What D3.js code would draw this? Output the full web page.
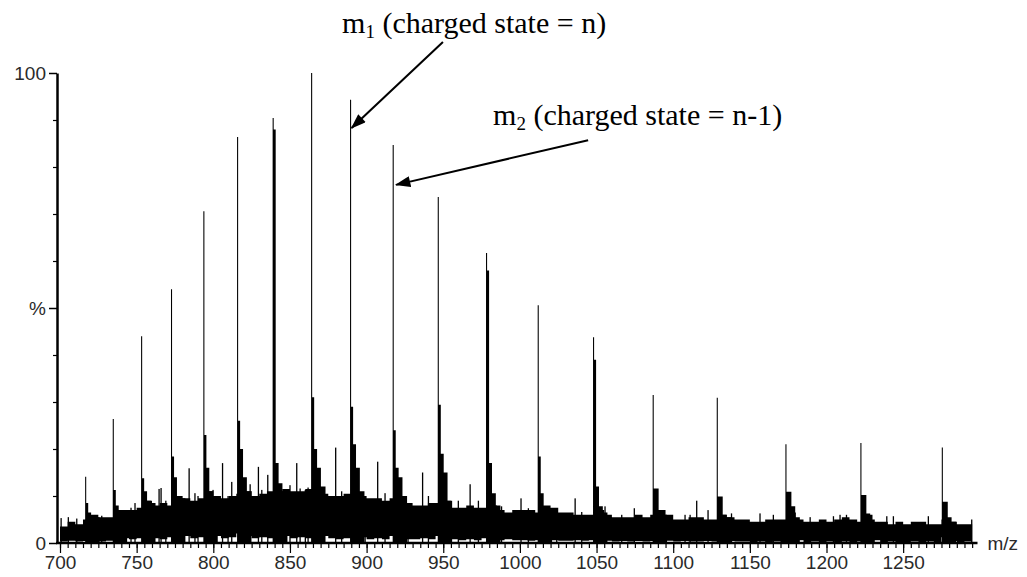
<!DOCTYPE html>
<html lang="en">
<head>
<meta charset="UTF-8">
<title>Spectrum</title>
<script src="https://cdn.jsdelivr.net/npm/d3@7/dist/d3.min.js"></script>
<style>
    body { margin: 0; background: #fff; }
    .axis text { font-family: "Liberation Sans", Arial, sans-serif; font-size: 19px; fill: #2a2a2a; }
    .axis path, .axis line { stroke: #000; }
</style>
</head>
<body>
<div id="chart"></div>
<script>
// noise band, read every 5 m/z from 700 to 1295 (% intensity)
var noiseMz = d3.range(700, 1300, 5);
var noiseTop = [
    3.5, 4.5, 4, 5, 6, 5.5, 5.5, 6, 7, 7,
    7.5, 9, 8, 8.5, 8, 10, 9.5, 9, 9.5, 11,
    10, 9.5, 10, 10.5, 11, 10, 10.5, 11, 11, 11.5,
    11, 11, 11.5, 12, 10.5, 10, 10, 10.5, 11, 10,
    9.5, 9.5, 9, 9.5, 10, 8.5, 8, 8, 8.5, 8.5,
    9, 7.5, 7.5, 8, 7.5, 7.5, 8, 7, 6.5, 7,
    7, 7, 6.5, 8, 7.5, 6.5, 6.5, 6, 6, 6,
    7, 6, 5.5, 5.5, 5.5, 6, 5.5, 6, 7, 6,
    5, 5, 5.5, 5.5, 5, 5, 6, 5.5, 5, 5,
    4.5, 4.5, 5, 5, 5, 6.5, 5, 4.5, 4.5, 5,
    4.5, 5, 5.5, 5, 4.5, 6, 4.5, 4.5, 4, 4.5,
    4, 4.5, 4.5, 4, 4, 5, 4.5, 4, 4, 4
];
var noiseBottom = [
    0.3, 0.5, 0.3, 0.4, 0.5, 0.3, 0.5, 1.2, 1, 0.8,
    1, 1.5, 1, 0.8, 1.2, 2, 1.5, 1, 1.2, 2,
    1.5, 1, 1.2, 2, 1.5, 1, 1.2, 1, 2, 1.5,
    1, 1.2, 1, 2, 1.5, 1, 0.8, 1, 2, 1.2,
    0.8, 1, 0.8, 1.5, 1.2, 0.8, 0.8, 1, 0.8, 1.5,
    1, 0.8, 0.6, 0.8, 0.6, 1, 0.6, 0.6, 0.8, 0.6,
    0.6, 0.5, 0.6, 1, 0.6, 0.5, 0.5, 0.6, 0.5, 0.6,
    1, 0.5, 0.3, 0.4, 0.3, 0.4, 0.3, 0.4, 1, 0.5,
    0.3, 0.4, 0.3, 0.3, 0.4, 0.3, 0.8, 0.4, 0.3, 0.3,
    0.2, 0.3, 0.2, 0.3, 0.2, 1.2, 0.6, 0.2, 0.3, 0.2,
    0.3, 0.2, 0.3, 0.2, 0.3, 1.2, 0.6, 0.2, 0.3, 0.2,
    0.2, 0.3, 0.2, 0.3, 0.2, 1.2, 0.4, 0.2, 0.3, 0.2
];

// charge-state peaks
var peakMz     = [716.8, 734.8, 753.3, 772.8, 793.9, 815.9, 839.1, 864.2, 889.6, 917.4, 946.8, 978.3, 1012.0, 1048.1, 1087.0, 1128.8, 1173.6, 1222.5, 1275.6];
var peakTop    = [14.1, 26.4, 44, 54, 70.6, 86.4, 90.4, 100, 94.3, 84.7, 73.6, 61.7, 50.6, 43.8, 31.5, 30.9, 21, 21.3, 20.3];
var peakSecond = [8.5, 11.3, 13.8, 18.4, 23, 26, 88, 31, 29, 24, 29.4, 58, 18.4, 39, 11.6, 9.9, 10.9, 10.2, 8.8];
var tail1      = [6.5, 8, 11, 14, 16, 20, 17, 20, 21, 16, 19, 17, 10.6, 12, 11.6, 9.9, 10.9, 10.2, 8.8];
var tail2      = [5.5, 7, 9, 10, 11, 14, 12.7, 16, 16, 14, 15, 10.6, 7.8, 7.8, 7, 6, 7.8, 6.3, 5.5];
var tail3      = [5.5, 7, 8.5, 9.5, 10, 11, 11, 12, 11, 10, 9, 8, 7, 6.5, 6, 5.5, 5.5, 5, 4.5];

// isolated spikes standing out of the noise
var spikeMz = [
    700.7, 705.4, 710.9, 727.2, 746.3, 748.9, 764.6, 765.9, 769.0, 778.0,
    784.2, 788.0, 790.0, 799.8, 806.0, 809.6, 812.0, 824.0, 829.4, 831.6,
    835.5, 847.9, 850.0, 854.4, 856.6, 860.0, 861.8, 870.7, 879.8, 883.7,
    899.0, 907.2, 912.0, 927.0, 936.5, 940.3, 959.8, 967.5, 972.9, 988.0,
    1000.7, 1005.5, 1024.0, 1036.0, 1040.3, 1055.5, 1066.4, 1074.6, 1107.7, 1111.0,
    1115.3, 1122.7, 1138.0, 1156.6, 1165.3, 1189.3, 1204.5, 1208.8, 1213.0, 1239.3,
    1243.6, 1266.4, 1294.7
];
var spikeHeight = [
    5.3, 5.5, 5.2, 5.8, 7.5, 8.5, 11.5, 11.7, 9, 10,
    15.9, 10.6, 10, 11.3, 17, 10, 13, 12.5, 16.2, 11.3,
    14.5, 10.6, 12.3, 17, 11.6, 11.3, 11.8, 10, 20.3, 11,
    10, 17.3, 10.6, 7.8, 15, 10, 9, 12.5, 9, 7.8,
    9.5, 7.4, 7, 9.5, 6.6, 7.8, 6, 7.4, 6, 6,
    9, 7, 6.3, 6.3, 6, 5.5, 5.7, 6, 6, 5.7,
    5.7, 5.7, 5
];

// axis ticks
var majorTicks = d3.range(700, 1251, 50);
var minorTicks = d3.range(700, 1300, 5);
var yTicks = [0, 50, 100];
var yTickLabels = ["0", "%", "100"];
var yMinorTicks = [10, 20, 30, 40, 60, 70, 80, 90];

// annotations
var annoSub    = ["1", "2"];
var annoRest   = [" (charged state = n)", " (charged state = n-1)"];
var annoTextMz = [884, 982.5];
var annoTextY  = [108.5, 89];
var annoFromMz = [949.8, 1044.5];
var annoFromY  = [106.6, 85.7];
var annoToMz   = [890.2, 919.2];
var annoToY    = [88.3, 76.2];

var width = 1027, height = 577;

var svg = d3.select("#chart").append("svg")
    .attr("width", width)
    .attr("height", height);

var x = d3.scaleLinear().domain([700, 1298.5]).range([60, 977.5]);
var y = d3.scaleLinear().domain([0, 100]).range([543, 73]);

svg.append("defs").append("marker")
    .attr("id", "arrow")
    .attr("viewBox", "0 0 14 10")
    .attr("refX", 13)
    .attr("refY", 5)
    .attr("markerUnits", "userSpaceOnUse")
    .attr("markerWidth", 16)
    .attr("markerHeight", 11)
    .attr("orient", "auto")
    .append("path")
    .attr("d", "M0,0 L14,5 L0,10 z")
    .attr("fill", "#000");

// noise band
var band = noiseMz.map(function (m, i) { return [m, noiseBottom[i], noiseTop[i]]; });
svg.append("path")
    .datum(band)
    .attr("d", d3.area()
        .curve(d3.curveStepAfter)
        .x(function (d) { return x(d[0]); })
        .y0(function (d) { return y(d[1]); })
        .y1(function (d) { return y(d[2]); }))
    .attr("fill", "#000");

// peaks with tailing shoulder
var peakArea = d3.area()
    .curve(d3.curveStepAfter)
    .x(function (d) { return x(d[0]); })
    .y0(y(0))
    .y1(function (d) { return y(d[1]); });

peakMz.forEach(function (m, i) {
    var pts = [
        [m - 0.4, peakTop[i]],
        [m + 0.3, peakSecond[i]],
        [m + 1.6, tail1[i]],
        [m + 3.5, tail2[i]],
        [m + 6, tail3[i]],
        [m + 9, tail3[i]]
    ];
    svg.append("path").datum(pts).attr("d", peakArea).attr("fill", "#000");
});

svg.selectAll(".spike")
    .data(spikeMz)
    .enter().append("rect")
    .attr("class", "spike")
    .attr("x", function (d) { return x(d) - 0.6; })
    .attr("width", 1.3)
    .attr("y", function (d, i) { return y(spikeHeight[i]); })
    .attr("height", function (d, i) { return y(0) - y(spikeHeight[i]); })
    .attr("fill", "#000");

// axes
var xAxisMinor = svg.append("g")
    .attr("class", "axis")
    .attr("transform", "translate(0," + y(0) + ")")
    .call(d3.axisBottom(x).tickValues(minorTicks).tickSize(5).tickSizeOuter(0).tickFormat(""));
xAxisMinor.select(".domain").remove();
xAxisMinor.selectAll("line").attr("stroke-width", 1.2);

var xAxis = svg.append("g")
    .attr("class", "axis")
    .attr("transform", "translate(0," + y(0) + ")")
    .call(d3.axisBottom(x).tickValues(majorTicks).tickSize(10).tickSizeOuter(0).tickPadding(3)
        .tickFormat(d3.format("d")));
xAxis.select(".domain").remove();
xAxis.selectAll("line").attr("stroke-width", 1.2);

svg.append("line")
    .attr("x1", x(700) - 4).attr("x2", x(1298.5))
    .attr("y1", y(0)).attr("y2", y(0))
    .attr("stroke", "#000").attr("stroke-width", 2.5);

var yAxisMinor = svg.append("g")
    .attr("class", "axis")
    .attr("transform", "translate(" + (x(700) - 3) + ",0)")
    .call(d3.axisLeft(y).tickValues(yMinorTicks).tickSize(4).tickSizeOuter(0).tickFormat(""));
yAxisMinor.select(".domain").remove();
yAxisMinor.selectAll("line").attr("stroke-width", 1.2);

var yAxis = svg.append("g")
    .attr("class", "axis")
    .attr("transform", "translate(" + (x(700) - 3) + ",0)")
    .call(d3.axisLeft(y).tickValues(yTicks).tickSize(8).tickSizeOuter(0).tickPadding(3)
        .tickFormat(function (d, i) { return yTickLabels[i]; }));
yAxis.select(".domain").attr("stroke-width", 2.5);
yAxis.selectAll("line").attr("stroke-width", 1.5);

svg.append("text")
    .attr("x", x(1298.5) + 10)
    .attr("y", y(0) + 7)
    .style("font-family", "'Liberation Sans', Arial, sans-serif")
    .style("font-size", "19px")
    .style("fill", "#2a2a2a")
    .text("m/z");

// annotations
annoSub.forEach(function (s, i) {
    var t = svg.append("text")
        .attr("x", x(annoTextMz[i]))
        .attr("y", y(annoTextY[i]))
        .style("font-family", "'Liberation Serif', 'Times New Roman', serif")
        .style("font-size", "30px")
        .style("fill", "#000");
    t.append("tspan").text("m");
    t.append("tspan").attr("dy", 5).style("font-size", "19px").text(s);
    t.append("tspan").attr("dy", -5).text(annoRest[i]);

    svg.append("line")
        .attr("x1", x(annoFromMz[i])).attr("y1", y(annoFromY[i]))
        .attr("x2", x(annoToMz[i])).attr("y2", y(annoToY[i]))
        .attr("stroke", "#000")
        .attr("stroke-width", 2)
        .attr("marker-end", "url(#arrow)");
});
</script>
</body>
</html>
